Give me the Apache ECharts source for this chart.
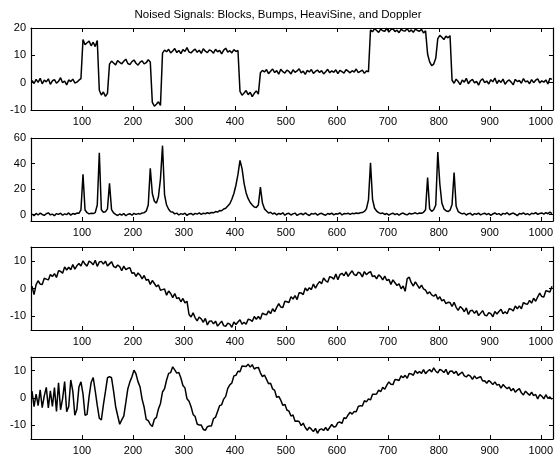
<!DOCTYPE html>
<html>
<head>
<meta charset="utf-8">
<script src="https://cdn.jsdelivr.net/npm/echarts@6/dist/echarts.min.js"></script>
<style>
    html, body { margin: 0; padding: 0; background: #fff; }
    #noisedfigure { width: 556px; height: 458px; }
</style>
</head>
<body>
<div id="noisedfigure"></div>
<script>
// sampled every 4th point of the 1024-point signals (x = 2, 6, 10 ... 1022)
var sampleStep = 4;
var sampleCount = 256;

var blocks = [
    0.8, -0.3, 1.2, 0.1, 1.6, -0.4, 0.9, 0.3, 1.4, -0.6, 0.7, 1.1, -0.2, 0.5, 1.8, 0.0, 0.6, -0.8, 1.0, 0.4, 1.3, -0.1, 0.2, 0.9, 1.5,
    15.8, 13.9, 14.6, 15.2, 13.5, 14.8, 13.2, 15.4,
    -2.8, -4.5, -3.4, -5.0, -3.9,
    6.8, 7.9, 7.2, 6.5, 8.1, 7.4, 6.9, 7.8, 8.6, 7.0, 6.6, 7.7, 8.3, 7.1, 6.4, 7.5, 8.0, 6.9, 7.3, 8.4, 7.6,
    -7.2, -8.6, -7.9, -7.0, -8.3,
    10.8, 11.9, 11.3, 12.2, 10.9, 11.6, 12.5, 11.0, 11.8, 10.6, 12.1, 11.4, 12.8, 11.2, 10.9, 11.7, 12.3, 11.1, 11.9, 10.7,
    12.4, 11.5, 11.0, 12.0, 11.6, 10.8, 12.2, 11.3, 11.8, 10.5, 11.9, 12.6, 11.2, 11.7, 10.9, 12.1, 11.4, 11.8,
    -3.2, -4.6, -3.8, -2.9, -4.4, -3.5, -5.1, -3.9, -3.0, -4.2,
    3.6, 4.5, 3.9, 4.8, 3.3, 4.2, 5.0, 3.7, 4.4, 3.1, 4.9, 4.0, 3.5, 4.6, 4.1, 3.2, 4.7, 3.8, 4.3, 5.1,
    3.6, 4.2, 3.0, 4.5, 3.9, 4.8, 3.4, 4.1, 4.6, 3.7, 4.4, 3.2, 4.0, 4.9, 3.6, 4.3, 3.8, 4.7, 3.3, 4.5,
    4.0, 3.5, 4.8, 4.2, 3.6, 4.4, 3.9, 5.0, 3.7, 4.1, 4.6, 3.4, 4.3, 4.0,
    19.3, 18.6, 19.8, 19.1, 18.4, 19.6, 19.0, 18.8, 19.9, 18.5, 19.4, 19.7, 18.7, 19.2, 18.3, 19.5, 19.0, 18.9, 19.8, 18.6,
    19.3, 18.4, 19.6, 19.1, 18.8, 19.5, 18.2, 19.0,
    10.5, 7.6, 6.2, 6.8, 8.9,
    16.1, 17.3, 16.6, 15.8, 17.0, 16.4, 17.2,
    0.9, -0.2, 1.3, 0.4, -0.7, 1.0, 0.2, 1.6, -0.4, 0.7, 1.2, -0.1, 0.5, -0.9, 0.8, 1.4, 0.0, 0.6, -0.5, 1.1,
    0.3, 1.7, -0.3, 0.9, 0.1, 1.3, -0.6, 0.5, 1.0, 0.2, -0.8, 1.2, 0.4, 0.8, -0.2, 1.5, 0.3, 0.6, -0.4, 1.1,
    0.0, 0.9, 1.4, -0.1, 0.7, 0.2, 1.0, -0.5, 1.6, 1.2
];

var bumps = [
    0.5, -0.8, 0.9, -0.3, 1.2, 0.1, -0.6, 0.7, 1.4, -0.2, 0.4, -0.9, 0.8, 0.2, 1.1, -0.5,
    0.6, 0.0, 1.3, -0.4, 0.9, 0.3, 1.2, 1.0, 3.8, 31.5, 3.6, 1.5, 0.6, 1.1, 0.8, 1.6,
    7.5, 48.5, 3.8, 1.9, 2.2, 4.5, 24.5, 4.0, 1.3, 0.2, -0.7, 0.5, -0.4, 0.9, -0.9, 0.3,
    0.7, -0.5, 1.0, 0.2, 0.8, 0.4, 1.3, 1.5, 2.7, 7.5, 36.2, 16.5, 10.5, 9.0, 14.0, 28.0,
    54.0, 15.5, 7.5, 4.2, 2.3, 2.0, 0.6, 1.2, -0.3, 0.8, 0.2, 1.1, -0.6, 0.5, 0.9, -0.2,
    1.0, 0.4, 1.3, 0.2, 1.1, 0.7, 1.5, 0.9, 1.7, 1.4, 2.4, 2.0, 3.2, 3.0, 4.4, 5.0,
    6.8, 8.5, 12.0, 16.5, 23.0, 31.5, 42.5, 36.0, 24.5, 17.0, 12.5, 9.5, 7.6, 6.0, 5.5, 7.5,
    21.5, 9.0, 4.5, 2.8, 1.2, 1.9, 0.5, 1.3, -0.2, 0.9, 0.3, 1.4, -0.5, 0.7, 1.0, -0.3,
    0.6, 1.2, -0.6, 0.4, 0.9, -0.1, 1.3, 0.2, -0.7, 0.8, 0.4, 1.1, -0.4, 0.6, 1.0, 0.1,
    -0.5, 0.9, 0.3, 1.2, -0.2, 0.7, 0.5, 1.4, -0.3, 0.8, 0.6, 1.1, 0.2, 1.0, 0.7, 1.2,
    0.9, 1.5, 1.6, 2.5, 4.5, 11.5, 40.5, 12.0, 5.0, 2.8, 1.6, 0.8, 1.2, 0.1, 0.9, -0.4,
    0.6, 1.1, 0.0, 0.8, -0.5, 0.7, 1.2, 0.3, -0.2, 1.0, 0.5, 0.9, 1.4, 0.6, 1.3, 1.0,
    1.8, 3.8, 29.0, 4.5, 2.6, 3.8, 7.5, 49.0, 24.0, 9.0, 4.5, 3.0, 2.4, 3.5, 8.0, 33.0,
    6.5, 2.4, 1.3, 0.6, 1.1, -0.3, 0.7, 1.0, -0.5, 0.8, 0.3, 1.2, -0.2, 0.6, 1.1, 0.0,
    0.9, -0.6, 0.5, 1.3, 0.2, 0.8, -0.4, 1.0, 0.4, 1.5, -0.1, 0.7, 1.2, 0.3, -0.8, 0.9,
    0.5, 1.4, 0.1, 0.8, -0.3, 1.1, 0.6, 1.6, 0.2, 0.9, 1.3, 0.4, 1.5, 0.7, 1.9, 0.8
];

var heavisine = [
    0.8, -2.2, 1.4, 2.8, 1.6, 1.4, 3.7, 3.4, 3.1, 5.1, 4.3, 5.4, 4.0, 6.4, 6.2, 5.5,
    7.8, 6.7, 7.7, 6.8, 8.7, 7.0, 8.2, 9.0, 8.1, 10.0, 8.8, 8.1, 9.9, 9.4, 8.6, 10.2,
    8.0, 9.6, 9.8, 8.8, 9.9, 8.1, 8.9, 9.7, 8.0, 7.5, 8.5, 7.9, 6.4, 8.1, 6.8, 7.3,
    7.5, 5.5, 5.7, 4.4, 5.6, 4.8, 3.5, 4.7, 3.0, 3.3, 1.5, 2.9, 1.8, 0.7, 1.3, -0.6,
    -0.4, -0.2, -2.4, -0.9, -1.8, -3.3, -1.8, -3.6, -3.3, -4.8, -3.6, -5.2, -4.6, -9.4, -10.3, -8.8,
    -10.6, -11.7, -10.3, -11.0, -12.2, -10.8, -13.2, -11.8, -11.7, -12.8, -11.8, -13.6, -12.7, -11.8, -13.4, -13.7,
    -12.5, -12.9, -14.0, -12.1, -13.0, -12.1, -11.3, -12.9, -12.2, -12.9, -11.1, -11.3, -11.9, -10.1, -11.1, -10.1,
    -11.1, -8.9, -9.3, -9.5, -8.1, -9.1, -7.3, -8.4, -6.8, -5.5, -6.7, -6.9, -4.6, -4.8, -5.1, -3.0,
    -3.8, -2.6, -4.0, -1.5, -1.6, -2.2, 0.2, -0.8, 0.3, -0.4, 1.6, 0.1, 1.5, 2.5, 1.7, 3.8,
    2.8, 2.3, 4.3, 4.0, 3.4, 5.2, 3.2, 5.0, 5.5, 4.6, 6.0, 4.4, 5.5, 6.4, 5.0, 4.7,
    5.9, 5.5, 4.2, 6.1, 5.0, 5.7, 6.1, 4.3, 4.6, 3.5, 4.9, 4.3, 3.1, 4.5, 2.9, 3.3,
    1.5, 3.1, 2.1, 1.1, 1.7, -0.1, 0.9, -1.0, 3.6, 4.1, 2.1, 0.9, 2.4, 1.2, 0.1, 1.2,
    -0.1, -0.6, -1.9, -1.2, -2.3, -2.8, -2.1, -3.9, -3.0, -4.5, -4.0, -5.5, -5.0, -5.1, -6.5, -5.0,
    -6.8, -7.9, -6.5, -7.2, -8.4, -7.0, -9.4, -8.0, -7.9, -9.0, -8.0, -9.8, -8.9, -8.0, -9.6, -9.9,
    -8.7, -9.1, -10.2, -8.3, -9.2, -8.3, -7.5, -9.1, -8.4, -9.1, -7.3, -7.5, -8.1, -6.3, -7.3, -6.3,
    -7.3, -5.1, -5.5, -5.7, -4.3, -5.3, -3.5, -4.6, -3.0, -1.7, -2.9, -3.1, -0.8, -1.0, -1.3, 0.8
];

var doppler = [
    2.5, -3.2, 1.4, -2.8, 3.0, -3.5, 0.8, 3.9, -3.6, 2.6, -3.1, 3.8, -4.9, 5.6, -4.3, -0.2,
    6.0, -5.0, -3.1, 6.6, 2.5, -6.3, -4.1, 4.0, 5.9, 1.5, -6.3, -6.0, 0.6, 5.7, 7.5, 2.6,
    -2.7, -7.4, -8.0, -2.5, 2.3, 7.4, 7.8, 7.4, 2.5, -3.1, -6.4, -9.6, -8.0, -6.6, -1.7, 3.4,
    5.9, 7.8, 10.2, 8.8, 5.9, 4.0, -0.5, -3.4, -7.8, -8.3, -9.7, -10.4, -7.8, -7.1, -4.0, -2.0,
    2.2, 3.4, 6.6, 9.0, 9.3, 11.4, 10.3, 9.1, 9.3, 7.3, 4.6, 3.7, -0.3, -1.2, -3.2, -6.0,
    -6.8, -9.5, -9.9, -9.9, -11.5, -11.8, -10.5, -10.2, -10.2, -7.6, -7.0, -4.9, -2.8, -2.5, -0.4, 0.6,
    3.5, 4.8, 5.5, 8.1, 8.3, 9.8, 9.6, 11.7, 11.6, 11.5, 12.4, 11.3, 12.2, 10.6, 11.1, 11.2,
    9.2, 7.8, 8.4, 6.8, 5.2, 5.4, 3.3, 2.8, 0.2, 0.6, -0.8, -2.7, -2.3, -4.4, -4.8, -6.6,
    -6.2, -8.5, -8.4, -8.6, -10.1, -9.2, -10.8, -11.8, -10.7, -11.4, -12.3, -11.1, -12.9, -11.6, -11.3, -11.9,
    -10.8, -11.9, -10.8, -9.7, -10.6, -10.4, -9.0, -8.8, -9.3, -7.2, -7.5, -6.2, -5.2, -5.9, -4.9, -5.0,
    -3.1, -2.8, -2.9, -1.0, -1.4, -0.3, -0.7, 1.4, 1.4, 1.5, 2.9, 2.3, 3.9, 3.2, 4.7, 5.9,
    5.0, 4.9, 6.8, 6.7, 6.4, 8.1, 7.4, 8.3, 7.2, 9.0, 8.8, 8.3, 10.0, 9.0, 9.7, 9.0,
    10.4, 8.9, 9.8, 10.4, 9.5, 11.0, 9.8, 9.2, 10.5, 10.1, 9.3, 10.5, 8.6, 9.8, 9.9, 9.0,
    9.8, 8.3, 8.9, 9.5, 8.1, 7.7, 8.5, 8.0, 6.8, 8.1, 7.1, 7.5, 7.8, 6.2, 6.3, 5.4,
    6.4, 5.8, 4.9, 5.9, 4.7, 5.0, 3.6, 4.9, 4.1, 3.4, 4.0, 2.6, 3.5, 2.1, 2.9, 3.4,
    1.9, 1.1, 2.5, 1.7, 1.0, 2.1, 0.9, 1.3, -0.3, 1.2, 0.7, -0.3, 1.2, -0.1, 0.4, -0.5
];

var xTickLabels = [100, 200, 300, 400, 500, 600, 700, 800, 900, 1000];
var blocksTicks = [-10, 0, 10, 20];
var bumpsTicks = [0, 20, 40, 60];
var heavisineTicks = [-10, 0, 10];
var dopplerTicks = [-10, 0, 10];

var titleText = 'Noised Signals: Blocks, Bumps, HeaviSine, and Doppler';

var fontName = '"Liberation Sans", Arial, Helvetica, sans-serif';

// panel boxes in px: top, height ; y ranges
var panels = [
    {data: blocks, ticks: blocksTicks, min: -10, max: 20, top: 28, height: 82},
    {data: bumps, ticks: bumpsTicks, min: -5, max: 60, top: 138, height: 83},
    {data: heavisine, ticks: heavisineTicks, min: -15, max: 15, top: 247, height: 83},
    {data: doppler, ticks: dopplerTicks, min: -15, max: 15, top: 357, height: 82}
];

var sampleX = [];
for (let i = 0; i < sampleCount; i++) {
    sampleX.push(i * sampleStep + 2);
}

function toPairs(arr) {
    let out = [];
    for (let i = 0; i < arr.length; i++) {
        out.push([sampleX[i], arr[i]]);
    }
    return out;
}

function plainNumber(v) {
    return String(v);
}

var grids = [], xAxes = [], yAxes = [], series = [];

panels.forEach(function (p, k) {
    grids.push({left: 31, right: 3, top: p.top, height: p.height, containLabel: false});

    // bottom axis with labels, top axis only ticks (box look)
    ['bottom', 'top'].forEach(function (pos) {
        xAxes.push({
            type: 'value', gridIndex: k, position: pos, min: 0, max: 1024,
            axisLine: {show: true, onZero: false, lineStyle: {color: '#000', width: 1.2}},
            axisTick: {show: true, inside: true, length: 4, customValues: xTickLabels, lineStyle: {color: '#000'}},
            axisLabel: {
                show: pos === 'bottom', customValues: xTickLabels, margin: 6, formatter: plainNumber,
                color: '#000', fontSize: 11, fontFamily: fontName
            },
            splitLine: {show: false}
        });
    });
    ['left', 'right'].forEach(function (pos) {
        yAxes.push({
            type: 'value', gridIndex: k, position: pos, min: p.min, max: p.max,
            axisLine: {show: true, onZero: false, lineStyle: {color: '#000', width: 1.2}},
            axisTick: {show: true, inside: true, length: 4, customValues: p.ticks, lineStyle: {color: '#000'}},
            axisLabel: {
                show: pos === 'left', customValues: p.ticks, margin: 5, formatter: plainNumber,
                color: '#000', fontSize: 11, fontFamily: fontName
            },
            splitLine: {show: false}
        });
    });

    series.push({
        type: 'line',
        xAxisIndex: k * 2,
        yAxisIndex: k * 2,
        data: toPairs(p.data),
        showSymbol: false,
        symbol: 'none',
        lineStyle: {color: '#000', width: 1.5},
        silent: true
    });
});

var myChart = echarts.init(document.getElementById('noisedfigure'), null, {renderer: 'canvas'});

var option = {
    backgroundColor: '#fff',
    animation: false,
    title: {
        text: titleText,
        left: 'center',
        top: 9,
        padding: [0, 0, 0, 28],
        textStyle: {color: '#000', fontSize: 11.5, fontWeight: 'normal', fontFamily: fontName}
    },
    grid: grids,
    xAxis: xAxes,
    yAxis: yAxes,
    series: series
};

myChart.setOption(option);
</script>
</body>
</html>
